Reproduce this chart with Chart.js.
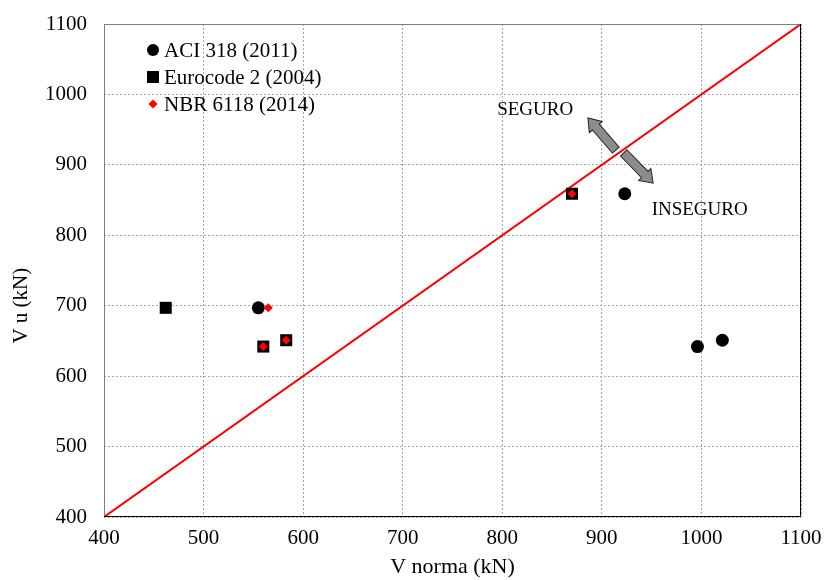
<!DOCTYPE html>
<html>
<head>
<meta charset="utf-8">
<script src="https://cdn.jsdelivr.net/npm/chart.js@4"></script>
<style>
    html, body { margin: 0; padding: 0; background: #fff; }
    #wrap { width: 825px; height: 580px; }
</style>
</head>
<body>
<div id="wrap"><canvas id="chart" width="825" height="580"></canvas></div>
<script>
// valores
const aciX = [555, 923, 996, 1021];
const aciY = [697, 859, 642, 651];
const eurX = [462, 560, 583, 870];
const eurY = [697, 642, 651, 859];
const nbrX = [565, 560, 583, 870];
const nbrY = [697, 642, 651, 859];
const lineX = [400, 1100];
const lineY = [400, 1100];
const axisMin = 400;
const axisMax = 1100;
const axisStep = 100;

const seriesNames = ['ACI 318 (2011)', 'Eurocode 2 (2004)', 'NBR 6118 (2014)'];
const xTitle = 'V norma (kN)';
const yTitle = 'V u (kN)';

// flechas SEGURO / INSEGURO (en unidades de los ejes)
const arrows = [
    { from: [914, 921], to: [886, 966.5] },
    { from: [922, 917], to: [951.5, 874] }
];
const notes = [
    { text: 'SEGURO', x: 833, y: 978, align: 'center' },
    { text: 'INSEGURO', x: 950, y: 836, align: 'left' }
];

const FONT = '"Liberation Serif", "Times New Roman", serif';

function toPoints(xs, ys) {
    return xs.map((x, i) => ({ x: x, y: ys[i] }));
}

function drawArrow(ctx, x1, y1, x2, y2) {
    const ang = Math.atan2(y2 - y1, x2 - x1);
    const len = Math.hypot(x2 - x1, y2 - y1);
    const shaft = 4.5, head = 8.5, headLen = 12;
    ctx.save();
    ctx.translate(x1, y1);
    ctx.rotate(ang);
    ctx.beginPath();
    ctx.moveTo(0, -shaft);
    ctx.lineTo(len - headLen, -shaft);
    ctx.lineTo(len - headLen, -head);
    ctx.lineTo(len, 0);
    ctx.lineTo(len - headLen, head);
    ctx.lineTo(len - headLen, shaft);
    ctx.lineTo(0, shaft);
    ctx.closePath();
    ctx.fillStyle = '#8c8c8c';
    ctx.fill();
    ctx.lineWidth = 1;
    ctx.strokeStyle = '#222';
    ctx.stroke();
    ctx.restore();
}

const extras = {
    id: 'extras',
    afterDraw(chart) {
        const ctx = chart.ctx;
        const a = chart.chartArea;
        const sx = chart.scales.x, sy = chart.scales.y;

        // marco
        ctx.save();
        ctx.lineWidth = 1;
        ctx.strokeStyle = '#7f7f7f';
        ctx.beginPath();
        ctx.moveTo(a.left + 0.5, a.bottom);
        ctx.lineTo(a.left + 0.5, a.top + 0.5);
        ctx.lineTo(a.right, a.top + 0.5);
        ctx.stroke();
        ctx.strokeStyle = '#000';
        ctx.beginPath();
        ctx.moveTo(a.right - 0.5, a.top);
        ctx.lineTo(a.right - 0.5, a.bottom - 0.5);
        ctx.lineTo(a.left, a.bottom - 0.5);
        ctx.stroke();
        ctx.restore();

        // flechas
        arrows.forEach(ar => {
            drawArrow(ctx,
                sx.getPixelForValue(ar.from[0]), sy.getPixelForValue(ar.from[1]),
                sx.getPixelForValue(ar.to[0]), sy.getPixelForValue(ar.to[1]));
        });

        // textos
        ctx.save();
        ctx.fillStyle = '#000';
        ctx.font = '19px ' + FONT;
        ctx.textBaseline = 'middle';
        notes.forEach(n => {
            ctx.textAlign = n.align;
            ctx.fillText(n.text, sx.getPixelForValue(n.x), sy.getPixelForValue(n.y));
        });

        // titulo eje y (a la altura de 700, como en el original)
        ctx.save();
        ctx.translate(21, sy.getPixelForValue(700));
        ctx.rotate(-Math.PI / 2);
        ctx.font = '21px ' + FONT;
        ctx.textAlign = 'center';
        ctx.textBaseline = 'middle';
        ctx.fillText(yTitle, 0, 0);
        ctx.restore();
        ctx.restore();

        // leyenda
        const lx = a.left + 49, ly = a.top + 26, gap = 27;
        ctx.save();
        ctx.fillStyle = '#000';
        ctx.beginPath();
        ctx.arc(lx, ly, 6, 0, Math.PI * 2);
        ctx.fill();
        ctx.fillRect(lx - 6, ly + gap - 6, 12, 12);
        ctx.fillStyle = '#ff0000';
        ctx.beginPath();
        ctx.moveTo(lx, ly + 2 * gap - 4.5);
        ctx.lineTo(lx + 4.5, ly + 2 * gap);
        ctx.lineTo(lx, ly + 2 * gap + 4.5);
        ctx.lineTo(lx - 4.5, ly + 2 * gap);
        ctx.closePath();
        ctx.fill();
        ctx.fillStyle = '#000';
        ctx.font = '21px ' + FONT;
        ctx.textAlign = 'left';
        ctx.textBaseline = 'middle';
        seriesNames.forEach((name, i) => {
            ctx.fillText(name, lx + 11, ly + i * gap + 1);
        });
        ctx.restore();
    }
};

const ctx = document.getElementById('chart').getContext('2d');
new Chart(ctx, {
    type: 'scatter',
    data: {
        datasets: [
            {
                label: seriesNames[2],
                data: toPoints(nbrX, nbrY),
                pointStyle: 'rectRot',
                pointRadius: 4.5,
                pointHoverRadius: 4.5,
                backgroundColor: '#ff0000',
                borderWidth: 0,
                order: 0
            },
            {
                label: seriesNames[1],
                data: toPoints(eurX, eurY),
                pointStyle: 'rect',
                pointRadius: 8.5,
                pointHoverRadius: 8.5,
                backgroundColor: '#000',
                borderWidth: 0,
                order: 1
            },
            {
                label: seriesNames[0],
                data: toPoints(aciX, aciY),
                pointStyle: 'circle',
                pointRadius: 6.5,
                pointHoverRadius: 6.5,
                backgroundColor: '#000',
                borderWidth: 0,
                order: 2
            },
            {
                type: 'line',
                label: 'Vu = Vnorma',
                data: toPoints(lineX, lineY),
                borderColor: '#ff0000',
                borderWidth: 2,
                pointRadius: 0,
                fill: false,
                order: 3
            }
        ]
    },
    options: {
        responsive: false,
        animation: false,
        layout: { padding: { top: 24, right: 24, left: 0, bottom: 0 } },
        plugins: {
            legend: { display: false },
            tooltip: { enabled: false }
        },
        scales: {
            x: {
                type: 'linear',
                min: axisMin,
                max: axisMax,
                ticks: {
                    stepSize: axisStep,
                    color: '#000',
                    font: { family: FONT, size: 21 },
                    padding: 9,
                    callback: v => String(v)
                },
                grid: { color: '#a6a6a6', drawTicks: false, tickLength: 0 },
                border: { display: false, dash: [2, 2] },
                title: {
                    display: true,
                    text: xTitle,
                    color: '#000',
                    font: { family: FONT, size: 22 },
                    padding: { top: 0, bottom: 0 }
                },
                afterFit(scale) {
                    scale.height = 63;
                    scale.paddingLeft = 0;
                    scale.paddingRight = 0;
                }
            },
            y: {
                type: 'linear',
                min: axisMin,
                max: axisMax,
                ticks: {
                    stepSize: axisStep,
                    color: '#000',
                    font: { family: FONT, size: 21 },
                    padding: 17,
                    callback: v => String(v)
                },
                grid: { color: '#a6a6a6', drawTicks: false, tickLength: 0 },
                border: { display: false, dash: [2, 2] },
                afterFit(scale) {
                    scale.width = 104;
                    scale.paddingTop = 0;
                    scale.paddingBottom = 0;
                }
            }
        }
    },
    plugins: [extras]
});
</script>
</body>
</html>
